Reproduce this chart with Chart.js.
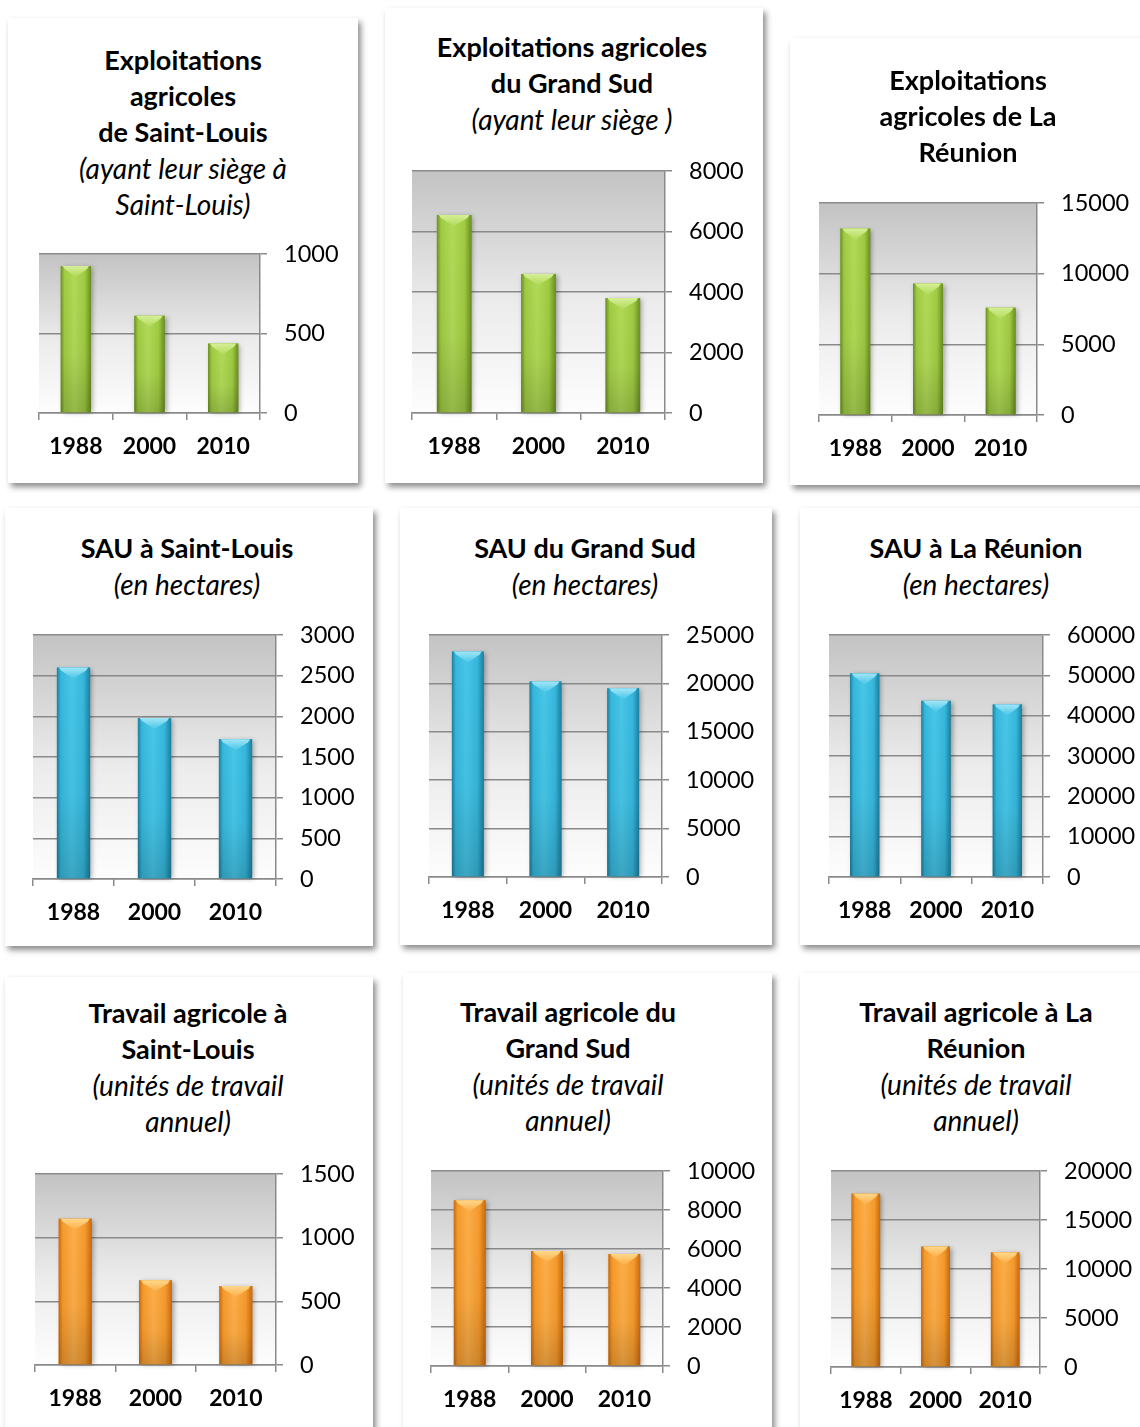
<!DOCTYPE html>
<html>
<head>
<meta charset="utf-8">
<script src="https://cdn.jsdelivr.net/npm/chart.js@4.4.1/dist/chart.umd.min.js"></script>
<style>
  body { margin: 0; width: 1140px; height: 1427px; overflow: hidden; background: #fff; position: relative; font-family: Lato, sans-serif; }
  .card { position: absolute; background: #fff; box-shadow: 3px 4px 6px rgba(0,0,0,0.45); }
  .ttl { position: absolute; width: 400px; text-align: center; line-height: 36px; color: #000; white-space: nowrap; }
  .ttl .b { font-weight: 700; font-size: 27px; }
  .ttl .i { font-style: italic; font-size: 28px; }
  .box { position: absolute; }
</style>
</head>
<body>
<script>
// categories
const years = ['1988', '2000', '2010'];

// exploitations agricoles (nombre)
const exploitStLouis = [925, 612, 437];
const exploitGrandSud = [6550, 4600, 3800];
const exploitReunion = [13200, 9300, 7600];

// SAU (hectares)
const sauStLouis = [2600, 1980, 1720];
const sauGrandSud = [23300, 20200, 19500];
const sauReunion = [50500, 43700, 42800];

// travail agricole (UTA)
const utaStLouis = [1150, 665, 620];
const utaGrandSud = [8500, 5900, 5750];
const utaReunion = [17700, 12300, 11700];

// y axis ranges
const yMax  = [1000, 8000, 15000, 3000, 25000, 60000, 1500, 10000, 20000];
const yStep = [500, 2000, 5000, 500, 5000, 10000, 500, 2000, 5000];

// titles
const titles = [
  ['Exploitations', 'agricoles', 'de Saint-Louis'],
  ['Exploitations agricoles', 'du Grand Sud'],
  ['Exploitations', 'agricoles de La', 'Réunion'],
  ['SAU à Saint-Louis'],
  ['SAU du Grand Sud'],
  ['SAU à La Réunion'],
  ['Travail agricole à', 'Saint-Louis'],
  ['Travail agricole du', 'Grand Sud'],
  ['Travail agricole à La', 'Réunion']
];
const subtitles = [
  ['(ayant leur siège à', 'Saint-Louis)'],
  ['(ayant leur siège )'],
  [],
  ['(en hectares)'],
  ['(en hectares)'],
  ['(en hectares)'],
  ['(unités de travail', 'annuel)'],
  ['(unités de travail', 'annuel)'],
  ['(unités de travail', 'annuel)']
];

const series = [exploitStLouis, exploitGrandSud, exploitReunion,
                sauStLouis, sauGrandSud, sauReunion,
                utaStLouis, utaGrandSud, utaReunion];

// bar palettes per row
const palettes = {
  green:  { base: '#94c33a', edge: '#6a8f22', mid: '#9fcb42', light: '#b2da58', top: '#d6ef98' },
  blue:   { base: '#33b4d8', edge: '#1d7f9e', mid: '#35b7dc', light: '#48c6e8', top: '#a2e6f7' },
  orange: { base: '#f39426', edge: '#c96a0c', mid: '#f59a2c', light: '#fdae48', top: '#ffd88a' }
};
const rowPalette = ['green', 'green', 'green', 'blue', 'blue', 'blue', 'orange', 'orange', 'orange'];

// layout: card box, title centre / first line, plot area [left, top, right, bottom]
const layoutSpec = [
  { card: [8, 18, 350, 465],   cx: 183, ty: 60,   plot: [39, 253, 260, 413] },
  { card: [385, 8, 378, 475],  cx: 572, ty: 47,   plot: [412, 170, 665, 413] },
  { card: [790, 38, 360, 447], cx: 968, ty: 80,   plot: [819, 202, 1037, 415] },
  { card: [5, 508, 368, 438],  cx: 187, ty: 548,  plot: [33, 634, 276, 879] },
  { card: [400, 508, 372, 437], cx: 585, ty: 548, plot: [429, 634, 662, 877] },
  { card: [800, 508, 350, 437], cx: 976, ty: 548, plot: [829, 634, 1043, 877] },
  { card: [5, 977, 368, 470],  cx: 188, ty: 1013, plot: [35, 1173, 276, 1365] },
  { card: [403, 973, 369, 470], cx: 568, ty: 1012, plot: [431, 1170, 663, 1366] },
  { card: [800, 973, 350, 470], cx: 976, ty: 1012, plot: [831, 1170, 1040, 1367] }
];

// canvas margins round the plot area (the y labels push the area down by ~14px)
const PAD_L = 20, PAD_T = 16, TOP_SHIFT = 14, Y_W = 110, X_H = 56;
const GRID = '#8a8a8a';

// grey plot background, darker at the top
const plotBackground = {
  id: 'plotBackground',
  beforeDraw(chart) {
    const { ctx, chartArea: a } = chart;
    const g = ctx.createLinearGradient(0, a.top, 0, a.bottom);
    g.addColorStop(0, '#c3c3c3');
    g.addColorStop(0.55, '#ececec');
    g.addColorStop(1, '#fdfdfd');
    ctx.save();
    ctx.fillStyle = g;
    ctx.fillRect(a.left, a.top, a.right - a.left, a.bottom - a.top);
    ctx.restore();
  }
};

// rounded shading and bevelled top on each bar
const bevelBars = {
  id: 'bevelBars',
  afterDatasetsDraw(chart, args, opts) {
    const ctx = chart.ctx;
    const p = palettes[opts.palette];
    chart.getDatasetMeta(0).data.forEach(bar => {
      const { x, y, width, base } = bar.getProps(['x', 'y', 'width', 'base'], true);
      const l = x - width / 2, r = x + width / 2, h = base - y;
      ctx.save();
      ctx.shadowColor = 'rgba(0,0,0,0.35)';
      ctx.shadowBlur = 5;
      ctx.shadowOffsetX = 2;
      ctx.shadowOffsetY = 1;
      const g = ctx.createLinearGradient(l, 0, r, 0);
      g.addColorStop(0, p.edge);
      g.addColorStop(0.12, p.mid);
      g.addColorStop(0.45, p.light);
      g.addColorStop(0.8, p.mid);
      g.addColorStop(1, p.edge);
      ctx.fillStyle = g;
      ctx.fillRect(l, y, width, h);
      ctx.restore();

      ctx.save();
      const v = ctx.createLinearGradient(0, y, 0, base);
      v.addColorStop(0, 'rgba(0,0,0,0)');
      v.addColorStop(0.6, 'rgba(0,0,0,0.03)');
      v.addColorStop(1, 'rgba(0,0,0,0.16)');
      ctx.fillStyle = v;
      ctx.fillRect(l, y, width, h);

      const c = Math.min(11, h * 0.5);
      const t = ctx.createLinearGradient(0, y, 0, y + c);
      t.addColorStop(0, p.top);
      t.addColorStop(1, p.light);
      ctx.fillStyle = t;
      ctx.beginPath();
      ctx.moveTo(l + 2, y);
      ctx.lineTo(r - 2, y);
      ctx.lineTo(r - 4, y + 3);
      ctx.lineTo(x, y + c);
      ctx.lineTo(l + 4, y + 3);
      ctx.closePath();
      ctx.fill();
      ctx.restore();
    });
  }
};

layoutSpec.forEach((spec, i) => {
  const [cx0, cy0, cw, ch] = spec.card;
  const card = document.createElement('div');
  card.className = 'card';
  Object.assign(card.style, { left: cx0 + 'px', top: cy0 + 'px', width: cw + 'px', height: ch + 'px' });
  document.body.appendChild(card);

  const ttl = document.createElement('div');
  ttl.className = 'ttl';
  ttl.style.left = (spec.cx - 200) + 'px';
  ttl.style.top = (spec.ty - 18) + 'px';
  titles[i].forEach(s => {
    const d = document.createElement('div'); d.className = 'b'; d.textContent = s; ttl.appendChild(d);
  });
  subtitles[i].forEach(s => {
    const d = document.createElement('div'); d.className = 'i'; d.textContent = s; ttl.appendChild(d);
  });
  document.body.appendChild(ttl);

  const [L, T, R, B] = spec.plot;
  const box = document.createElement('div');
  box.className = 'box';
  Object.assign(box.style, {
    left: (L - PAD_L) + 'px', top: (T - PAD_T - TOP_SHIFT) + 'px',
    width: (R - L + PAD_L + Y_W) + 'px', height: (B - T + PAD_T + TOP_SHIFT + X_H) + 'px'
  });
  const cv = document.createElement('canvas');
  box.appendChild(cv);
  document.body.appendChild(box);

  const pal = palettes[rowPalette[i]];
  new Chart(cv, {
    type: 'bar',
    data: {
      labels: years,
      datasets: [{ data: series[i], backgroundColor: pal.base, borderWidth: 0,
                   barPercentage: 0.41, categoryPercentage: 1 }]
    },
    options: {
      responsive: true, maintainAspectRatio: false, animation: false,
      layout: { padding: { left: PAD_L, top: PAD_T, right: 0, bottom: 0 } },
      plugins: { legend: { display: false }, tooltip: { enabled: false }, bevelBars: { palette: rowPalette[i] } },
      scales: {
        x: {
          grid: { offset: true, drawOnChartArea: false, drawTicks: true, tickLength: 7, color: GRID, lineWidth: 1.5 },
          border: { color: GRID, width: 1.5 },
          ticks: { color: '#000', padding: 13, font: { family: 'Lato', size: 23, weight: 'bold' } },
          afterFit: s => { s.height = X_H; }
        },
        y: {
          position: 'right', min: 0, max: yMax[i],
          grid: { color: GRID, lineWidth: 1.5, tickLength: 7 },
          border: { color: GRID, width: 1.5 },
          ticks: { stepSize: yStep[i], color: '#000', padding: 17, font: { family: 'Lato', size: 23.5 },
                   callback: v => String(v) },
          afterFit: s => { s.width = Y_W; }
        }
      }
    },
    plugins: [plotBackground, bevelBars]
  });
});
</script>
</body>
</html>
